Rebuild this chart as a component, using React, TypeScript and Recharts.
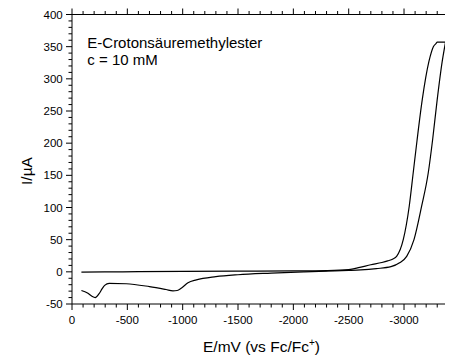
import React from 'react';
import { LineChart, Line, XAxis, YAxis, ReferenceLine } from 'recharts';

// |E| in mV (axis is labelled with negative potentials), I in µA
// forward scan 0 -> -3400 mV
const fwdE = [85, 300, 600, 1000, 1500, 2000, 2300, 2500, 2600, 2700, 2800, 2852, 2900, 2933, 2993, 3047, 3083, 3118, 3165, 3225, 3265, 3290, 3300, 3375];
const fwdI = [-0.5, -0.2, 0.2, 0.6, 1.0, 1.4, 2.0, 3.5, 7, 11, 14.5, 17, 20, 24, 50, 102, 154, 205, 268, 327, 350, 355, 357, 357];

// return scan, listed with rising |E|
const revE = [85, 140, 180, 210, 245, 270, 295, 336, 490, 700, 850, 912, 950, 990, 1048, 1124, 1300, 1500, 1800, 2100, 2300, 2500, 2609, 2750, 2882, 2960, 3024, 3090, 3159, 3219, 3258, 3300, 3345, 3375];
const revI = [-29, -33, -38, -40, -34, -27, -21, -18, -18.5, -23, -27.5, -29.5, -29, -25, -17, -12.5, -7.5, -4.5, -2, 0, 1.2, 2.2, 3, 5, 8, 14, 24, 50, 102, 154, 205, 268, 327, 357];

const xMajor = [0, 500, 1000, 1500, 2000, 2500, 3000];
const xLabels = ['0', '-500', '-1000', '-1500', '-2000', '-2500', '-3000'];
const yMajor = [-50, 0, 50, 100, 150, 200, 250, 300, 350, 400];
const yLabels = ['-50', '0', '50', '100', '150', '200', '250', '300', '350', '400'];

const xTicks = Array.from({ length: 35 }, (_, k) => k * 100);
const yTicks = Array.from({ length: 46 }, (_, k) => -50 + k * 10);

const fwd = fwdE.map((e, k) => ({ e, i: fwdI[k] }));
const rev = revE.map((e, k) => ({ e, i: revI[k] }));

const FONT = 'Liberation Sans, Arial, sans-serif';
const PL = 64;
const PR = 440.3;
const PT = 6.5;
const PB = 296;

function XTick(props: any) {
  const { x, payload } = props;
  const idx = xMajor.indexOf(payload.value);
  const len = idx >= 0 ? 6 : 3.5;
  return (
    <g>
      <line x1={x} y1={PB} x2={x} y2={PB + len} stroke="#000" />
      <line x1={x} y1={PT} x2={x} y2={PT - len} stroke="#000" />
      {idx >= 0 && (
        <text x={x} y={316} textAnchor="middle" fontSize={11.5} fontFamily={FONT} fill="#000">
          {xLabels[idx]}
        </text>
      )}
    </g>
  );
}

function YTick(props: any) {
  const { y, payload } = props;
  const idx = yMajor.indexOf(payload.value);
  const len = idx >= 0 ? 6 : 3.5;
  return (
    <g>
      <line x1={PL} y1={y} x2={PL - len} y2={y} stroke="#000" />
      <line x1={PR} y1={y} x2={PR + len} y2={y} stroke="#000" />
      {idx >= 0 && (
        <text x={54.7} y={y} dy="0.35em" textAnchor="end" fontSize={11.5} fontFamily={FONT} fill="#000">
          {yLabels[idx]}
        </text>
      )}
    </g>
  );
}

const xTitle = () => (
  <text x={195} y={344} fontSize={15.5} fontFamily={FONT} fill="#000">
    E/mV (vs Fc/Fc<tspan dy={-6} fontSize={10}>+</tspan>
    <tspan dy={6}>)</tspan>
  </text>
);

const yTitle = () => (
  <g fontFamily={FONT} fill="#000">
    <text x={18.7} y={163} dy="0.35em" textAnchor="middle" fontSize={15.5} transform="rotate(-90, 18.7, 163)">
      I/µA
    </text>
    <text x={79.3} y={39.7} fontSize={15}>E-Crotonsäuremethylester</text>
    <text x={79.3} y={57} fontSize={15}>c = 10 mM</text>
  </g>
);

export default function App() {
  return (
    <div style={{ width: 445, height: 352 }}>
      <LineChart width={445} height={352} margin={{ top: PT, right: 445 - PR, left: 8, bottom: 6 }}>
        <XAxis
          type="number"
          dataKey="e"
          domain={[0, 3400]}
          ticks={xTicks}
          interval={0}
          tick={XTick}
          tickLine={false}
          axisLine={{ stroke: '#000' }}
          height={50}
          allowDataOverflow
          label={xTitle}
        />
        <YAxis
          type="number"
          domain={[-50, 400]}
          ticks={yTicks}
          interval={0}
          tick={YTick}
          tickLine={false}
          axisLine={{ stroke: '#000' }}
          width={56}
          allowDataOverflow
          label={yTitle}
        />
        <ReferenceLine y={400} stroke="#000" />
        <ReferenceLine x={3400} stroke="#000" />
        <Line data={fwd} dataKey="i" type="monotone" dot={false} stroke="#000" strokeWidth={1.2} isAnimationActive={false} />
        <Line data={rev} dataKey="i" type="monotone" dot={false} stroke="#000" strokeWidth={1.2} isAnimationActive={false} />
      </LineChart>
    </div>
  );
}
